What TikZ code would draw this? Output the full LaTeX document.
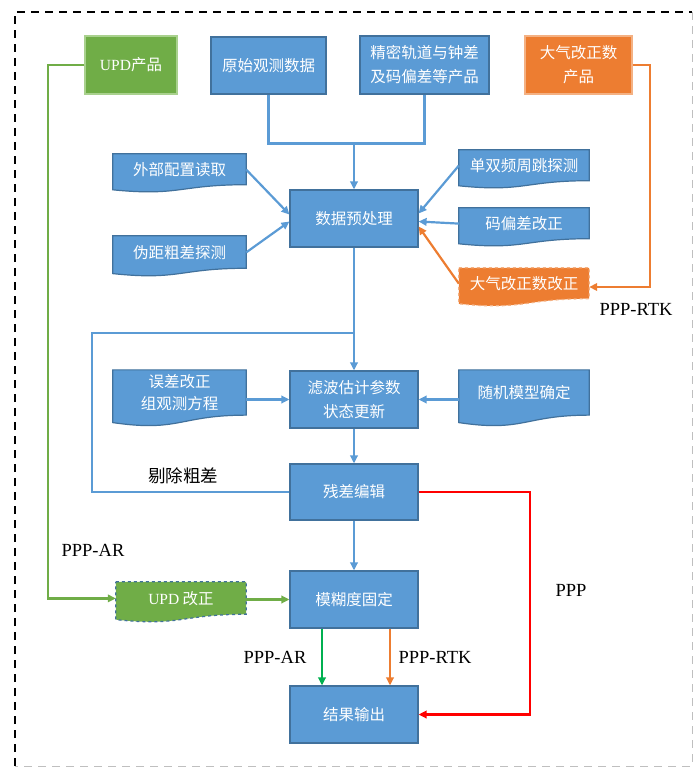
\documentclass[tikz,border=0pt]{standalone}
\usepackage{fontspec}
\setmainfont{Liberation Serif}
\newfontfamily\cjk{Noto Sans CJK SC}
\usetikzlibrary{arrows.meta,calc,backgrounds}
\definecolor{bfill}{HTML}{5B9BD5}
\definecolor{bdraw}{HTML}{41719C}
\definecolor{gfill}{HTML}{70AD47}
\definecolor{gbord}{HTML}{A9D18E}
\definecolor{ofill}{HTML}{ED7D31}
\definecolor{obord}{HTML}{F4B183}
\definecolor{redl}{HTML}{FF0000}
\definecolor{grnl}{HTML}{00B050}
\definecolor{greyd}{HTML}{BFBFBF}
\newcommand\docpath[2]{\path[#2] let \p1=(#1.north west), \p2=(#1.south east), \n1={(\y1-\y2)/0.82} in
  (\x1,\y1) -- (\x2,\y1) -- (\x2,{\y1-0.802*\n1})
  .. controls ({(\x1+\x2)/2},{\y1-0.802*\n1}) and ({(\x1+\x2)/2},{\y1-1.1075*\n1}) ..
  (\x1,{\y1-0.934*\n1}) -- cycle;}
\tikzset{
  box/.style={draw=bdraw, fill=bfill, line width=1.2pt, text=white,
    font=\cjk\fontsize{15.5}{24}\selectfont, align=center, inner sep=0pt},
  docn/.style={text=white, font=\cjk\fontsize{15.5}{22}\selectfont, align=center, inner sep=0pt},
  bluedoc/.style={fill=bfill, draw=bdraw, line width=1.2pt},
  arr/.style={-{Triangle[length=8pt,width=7.5pt]}},
  bl/.style={draw=bfill, line width=2.2pt},
  lab/.style={font=\fontsize{18.5}{20}\selectfont, text=black},
}
\begin{document}
\begin{tikzpicture}[x=1pt,y=-1pt]
\useasboundingbox (0,0) rectangle (694,767);
% outer frame
\draw[black, line width=1.6pt, dash pattern=on 8pt off 6pt] (15,766) -- (15,12) -- (692,12);
\draw[greyd, line width=1pt, dash pattern=on 8pt off 6pt] (692,12) -- (692,766) -- (15,766);

% top row
\node[box, draw=gbord, fill=gfill, minimum width=92pt, minimum height=58pt] (upd) at (131,65) {{\rmfamily UPD}产品};
\node[box, minimum width=115pt, minimum height=57pt] (raw) at (268.5,65.5) {原始观测数据};
\node[box, minimum width=129pt, minimum height=58pt] (prec) at (424.5,65) {精密轨道与钟差\\及码偏差等产品};
\node[box, draw=obord, fill=ofill, minimum width=107pt, minimum height=58pt] (atm) at (578.5,65) {大气改正数\\产品};

% main column
\node[box, minimum width=128pt, minimum height=57pt] (dp) at (354,218.5) {数据预处理};
\node[box, minimum width=128pt, minimum height=57pt] (flt) at (354,399.5) {滤波估计参数\\状态更新};
\node[box, minimum width=128pt, minimum height=56pt] (res) at (354,492) {残差编辑};
\node[box, minimum width=128pt, minimum height=57pt] (amb) at (354,599.5) {模糊度固定};
\node[box, minimum width=128pt, minimum height=57pt] (out) at (354,714.5) {结果输出};

% document shapes
\node[docn, minimum width=133pt, minimum height=31.2pt] (ext) at (179.5,169.6) {外部配置读取};
\node[docn, minimum width=133pt, minimum height=32.8pt] (pse) at (179.5,252.4) {伪距粗差探测};
\node[docn, minimum width=130pt, minimum height=31.2pt] (cyc) at (524,165.6) {单双频周跳探测};
\node[docn, minimum width=130pt, minimum height=31.2pt] (cbc) at (524,223.6) {码偏差改正};
\node[docn, minimum width=130pt, minimum height=31.2pt] (atmc) at (524,283.6) {大气改正数改正};
\node[docn, minimum width=133pt, minimum height=45.9pt] (err) at (179.5,393) {误差改正\\组观测方程};
\node[docn, minimum width=130pt, minimum height=45.9pt] (rnd) at (524,393) {随机模型确定};
\node[docn, minimum width=130pt, minimum height=32.8pt] (updc) at (181,598.4) {{\rmfamily UPD} 改正};

\begin{pgfonlayer}{background}
\docpath{ext}{bluedoc}
\docpath{pse}{bluedoc}
\docpath{cyc}{bluedoc}
\docpath{cbc}{bluedoc}
\docpath{err}{bluedoc}
\docpath{rnd}{bluedoc}
\docpath{atmc}{fill=ofill, draw=obord, line width=1.2pt, dashed}
\docpath{updc}{fill=gfill, draw=bdraw, line width=1.2pt, dashed}
\end{pgfonlayer}

% coordinates
\coordinate (jn) at (354,143);
\coordinate (jn2) at (354,333);
\coordinate (lp) at (92,420);
\coordinate (gx) at (48,330);
\coordinate (ox) at (650,287);
\coordinate (rx) at (530,600);

% connectors
\draw[bl] (raw.south) -- ++(0,49) -| (prec.south);
\draw[bl, arr] (jn) -- (dp.north);
\draw[bl, arr] (ext.east) -- ([yshift=4pt]dp.west);
\draw[bl, arr] (pse.east) -- ([yshift=-3pt]dp.west);
\draw[bl, arr] (cyc.east -| cyc.west) -- ([yshift=5pt]dp.east);
\draw[bl, arr] (cbc.west) -- ([yshift=-3pt]dp.east);
\draw[draw=ofill, line width=2.2pt, arr] (atmc.west) -- ([yshift=-8pt]dp.east);
\draw[draw=ofill, line width=2.2pt, arr] (atm.east) -| (ox) -- (ox -| atmc.east);
\draw[draw=gfill, line width=2.2pt, arr] (upd.west) -| (gx) |- (updc.west);

\draw[bl, arr] (dp.south) -- (flt.north);
\draw[bl] (res.west) -| (lp) |- (jn2);
\draw[bl, arr] (err.east |- flt.west) -- (flt.west);
\draw[bl, arr] (rnd.west |- flt.east) -- (flt.east);
\draw[bl, arr] (flt.south) -- (res.north);
\draw[bl, arr] (res.south) -- (amb.north);
\draw[draw=gfill, line width=2.2pt, arr] (updc.east |- amb.west) -- (amb.west);
\draw[draw=grnl, line width=2.2pt, arr] ([xshift=-32pt]amb.south) -- ([xshift=-32pt]out.north);
\draw[draw=ofill, line width=2.2pt, arr] ([xshift=36pt]amb.south) -- ([xshift=36pt]out.north);
\draw[draw=redl, line width=2.4pt, arr] (res.east) -| (rx) |- (out.east);

% labels
\node[lab, font=\cjk\fontsize{17.5}{18}\selectfont] (tc) at (183,476) {剔除粗差};
\node[lab] (l1) at (93,550) {PPP-AR};
\node[lab] (l2) at (571,590) {PPP};
\node[lab] (l3) at (275,657) {PPP-AR};
\node[lab] (l4) at (435,657) {PPP-RTK};
\node[lab] (l5) at (636,309) {PPP-RTK};
\end{tikzpicture}
\end{document}
